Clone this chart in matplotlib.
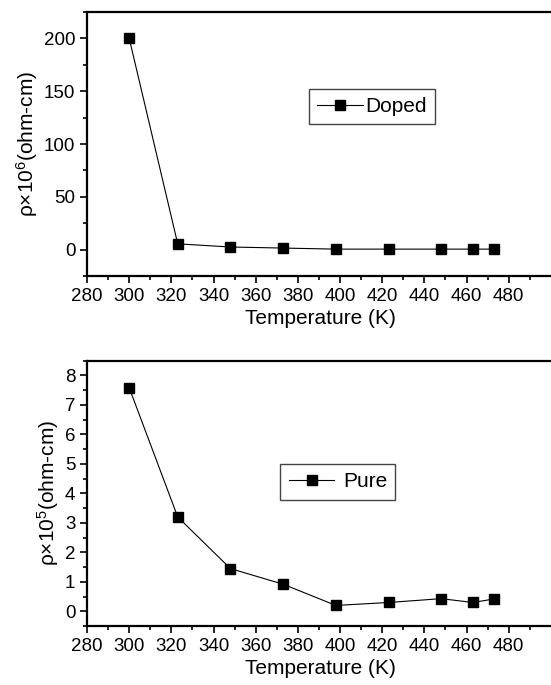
import matplotlib

matplotlib.use("Agg")
import matplotlib.pyplot as plt
from matplotlib.ticker import FixedLocator, MultipleLocator

plt.rcParams["font.family"] = ["Liberation Sans", "DejaVu Sans"]
plt.rcParams["mathtext.fontset"] = "custom"
plt.rcParams["mathtext.rm"] = "Liberation Sans"
plt.rcParams["mathtext.it"] = "Liberation Sans:italic"

# дані
temp = [300, 323, 348, 373, 398, 423, 448, 463, 473]
rho_doped = [200, 5.5, 2.5, 1.5, 0.5, 0.5, 0.5, 0.5, 0.5]
rho_pure = [7.58, 3.2, 1.45, 0.92, 0.2, 0.3, 0.43, 0.3, 0.42]
x_ticks = [280, 300, 320, 340, 360, 380, 400, 420, 440, 460, 480]

fig = plt.figure(figsize=(5.51, 6.85), dpi=100)
ax1 = fig.add_axes([0.158, 0.597, 0.8475, 0.3855])
ax2 = fig.add_axes([0.158, 0.086, 0.8475, 0.3875])


def style(ax, ymin, ymax, ymaj, ymin_step, label, leg_pos, pad):
    ax.set_xlim(280, 501.5)
    ax.set_ylim(ymin, ymax)
    ax.xaxis.set_major_locator(FixedLocator(x_ticks))
    ax.xaxis.set_minor_locator(FixedLocator([t + 10 for t in x_ticks]))
    ax.yaxis.set_major_locator(MultipleLocator(ymaj))
    ax.yaxis.set_minor_locator(MultipleLocator(ymin_step))
    ax.tick_params(which="major", direction="out", length=5, width=1.2,
                   labelsize=13.5)
    ax.tick_params(which="minor", direction="out", length=3, width=1.2)
    for sp in ax.spines.values():
        sp.set_linewidth(1.6)
    ax.spines["right"].set_visible(False)
    ax.set_xlabel("Temperature (K)", fontsize=15, labelpad=3)
    ax.set_ylabel(label, fontsize=15, labelpad=3)
    ax.legend(loc="center", bbox_to_anchor=leg_pos, fontsize=15,
              handlelength=2.2, handletextpad=pad, borderpad=0.4,
              fancybox=False, framealpha=1, edgecolor="#444444",
              borderaxespad=0).get_frame().set_linewidth(1.0)


ax1.plot(temp, rho_doped, "-s", color="black", lw=0.8, ms=6.5,
         label="Doped")
style(ax1, -25, 225, 50, 25, r"ρ×10$^6$(ohm-cm)", (0.61, 0.642), 0.1)

ax2.plot(temp, rho_pure, "-s", color="black", lw=0.8, ms=6.5,
         label="Pure")
style(ax2, -0.5, 8.5, 1, 0.5, r"ρ×10$^5$(ohm-cm)", (0.537, 0.543), 0.4)

fig.savefig("out.png", dpi=100)
